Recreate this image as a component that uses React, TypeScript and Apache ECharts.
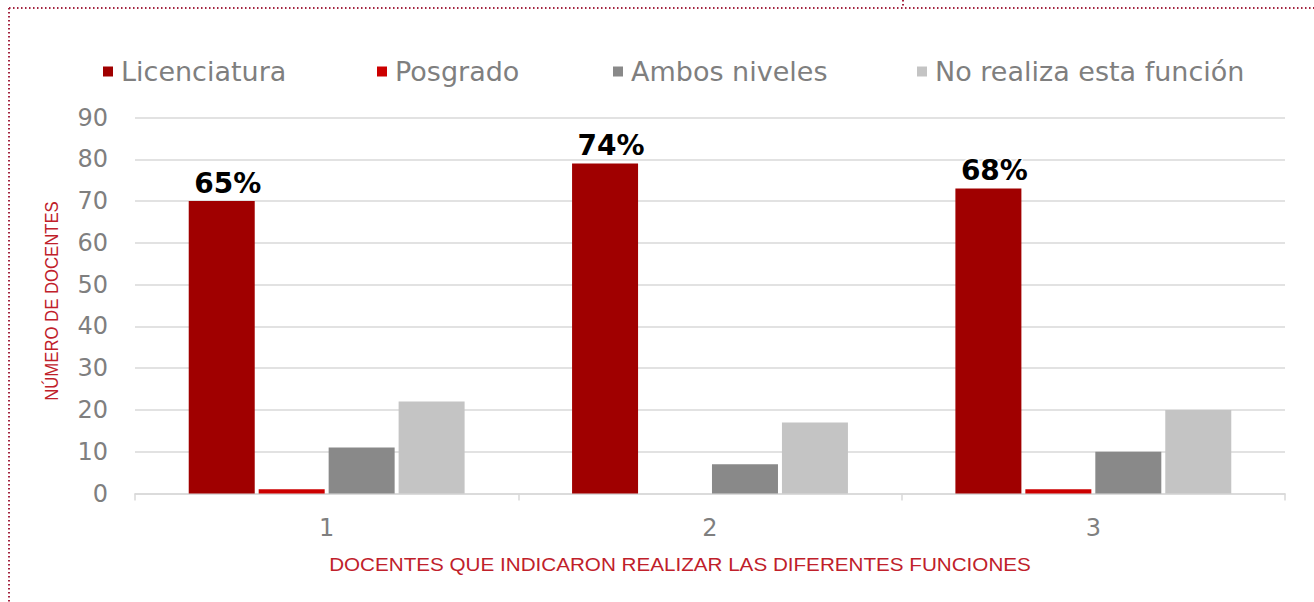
import React, { useEffect, useRef } from "react";
import * as echarts from "echarts";

const categories = ["1", "2", "3"];
const licenciatura = [70, 79, 73];
const posgrado = [1, 0, 1];
const ambos = [11, 7, 10];
const noRealiza = [22, 17, 20];
const percentLabels = ["65%", "74%", "68%"];
const seriesNames = ["Licenciatura", "Posgrado", "Ambos niveles", "No realiza esta función"];
const seriesColors = ["#a00000", "#cc0000", "#898989", "#c4c4c4"];
const yAxisTitle = "NÚMERO DE DOCENTES";
const xAxisTitle = "DOCENTES QUE INDICARON REALIZAR LAS DIFERENTES FUNCIONES";

const FONT = "'DejaVu Sans', sans-serif";
const GRAY = "#7f7f7f";
const GRID = "#d9d9d9";
const TITLE_RED = "#c0202a";
const DOT = "#a3233f";

export default function App() {
  const ref = useRef<HTMLDivElement>(null);

  useEffect(() => {
    if (!ref.current) return;
    const chart = echarts.init(ref.current, undefined, { renderer: "svg" });
    const values = [licenciatura, posgrado, ambos, noRealiza];
    const legendLefts = [103, 377, 613, 917];

    const option: any = {
      animation: false,
      backgroundColor: "#ffffff",
      grid: { left: 135, right: 29, top: 117.5, bottom: 108.5, containLabel: false },
      legend: seriesNames.map((n, i) => ({
        data: [n],
        left: legendLefts[i],
        top: 58,
        padding: 0,
        icon: "rect",
        itemWidth: 10,
        itemHeight: 10,
        itemStyle: { borderWidth: 0 },
        selectedMode: false,
        textStyle: { fontFamily: FONT, fontSize: 27, color: GRAY, padding: [0, 0, 0, 3] },
      })),
      xAxis: {
        type: "category",
        data: categories,
        axisLine: { lineStyle: { color: GRID, width: 1.5 } },
        axisTick: { show: true, length: 7, lineStyle: { color: GRID, width: 1.5 } },
        axisLabel: { fontFamily: FONT, fontSize: 24, color: GRAY, margin: 22 },
      },
      yAxis: {
        type: "value",
        min: 0,
        max: 90,
        interval: 10,
        axisLine: { show: false },
        axisTick: { show: false },
        splitLine: { lineStyle: { color: GRID, width: 1.5 } },
        axisLabel: { fontFamily: FONT, fontSize: 24, color: GRAY, margin: 27 },
      },
      series: seriesNames.map((n, i) => ({
        name: n,
        type: "bar",
        data: values[i],
        barWidth: 66,
        barGap: "6%",
        itemStyle: { color: seriesColors[i] },
        label:
          i === 0
            ? {
                show: true,
                position: "top",
                distance: 4,
                offset: [6, 0],
                formatter: (p: any) => percentLabels[p.dataIndex],
                fontFamily: FONT,
                fontSize: 28,
                fontWeight: "bold",
                color: "#000000",
                textBorderColor: "#ffffff",
                textBorderWidth: 3,
              }
            : { show: false },
      })),
      graphic: [
        {
          type: "line",
          silent: true,
          shape: { x1: 9, y1: 8, x2: 1314, y2: 8 },
          style: { stroke: DOT, lineWidth: 2, lineDash: [1.5, 2.5] },
        },
        {
          type: "line",
          silent: true,
          shape: { x1: 9, y1: 8, x2: 9, y2: 602 },
          style: { stroke: DOT, lineWidth: 2, lineDash: [1.5, 2.5] },
        },
        {
          type: "line",
          silent: true,
          shape: { x1: 903, y1: 0, x2: 903, y2: 8 },
          style: { stroke: DOT, lineWidth: 2, lineDash: [1.5, 2.5] },
        },
        {
          type: "text",
          silent: true,
          x: 52,
          y: 301,
          rotation: Math.PI / 2,
          scaleX: 0.88,
          style: {
            text: yAxisTitle,
            fontFamily: "'Liberation Sans', Arial, sans-serif",
            fontSize: 19,
            fill: TITLE_RED,
            align: "center",
            verticalAlign: "middle",
          },
        },
        {
          type: "text",
          silent: true,
          x: 680,
          y: 565,
          scaleX: 1.18,
          style: {
            text: xAxisTitle,
            fontFamily: "'Liberation Sans', Arial, sans-serif",
            fontSize: 17.5,
            fill: TITLE_RED,
            align: "center",
            verticalAlign: "middle",
          },
        },
      ],
    };

    chart.setOption(option);
    return () => chart.dispose();
  }, []);

  return (
    <div
      ref={ref}
      style={{ position: "fixed", left: 0, top: 0, width: 1314, height: 602 }}
    />
  );
}
